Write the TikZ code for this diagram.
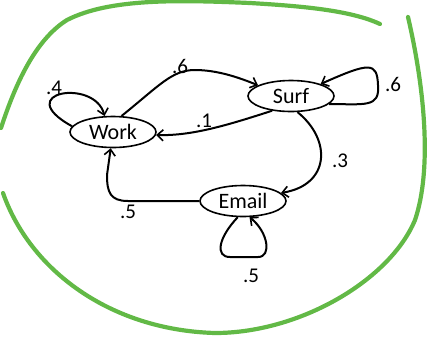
\documentclass[tikz,border=0pt]{standalone}
\usepackage{fontspec}
\setmainfont{Carlito}
\usetikzlibrary{arrows.meta,shapes.geometric}
\definecolor{grn}{RGB}{98,185,70}
\begin{document}
\begin{tikzpicture}[x=1pt,y=-1pt,
  state/.style={draw,ellipse,line width=1.6pt,inner sep=0pt,minimum width=86pt,minimum height=31pt,font=\fontsize{22}{26}\selectfont},
  lbl/.style={font=\fontsize{21}{25}\selectfont,inner sep=0pt},
  arr/.style={line width=2pt,-{Straight Barb[length=6pt,width=11pt,line width=1.6pt]}},
  greenline/.style={draw=grn,line width=4.2pt,line cap=round}]
\useasboundingbox (0,0) rectangle (433,341);
% green hand-drawn outline
\draw[greenline] (380,24) .. controls (350,10) and (300,6) .. (250,3)
  .. controls (180,0) and (110,-2) .. (67,20)
  .. controls (35,40) and (15,85) .. (1,128);
\draw[greenline] (3,193) .. controls (30,270) and (110,330) .. (215,333)
  .. controls (300,333) and (390,280) .. (415,220)
  .. controls (432,170) and (425,90) .. (408,17);
% states
\node[state] (work) at (113,132) {Work};
\node[state] (surf) at (291,96) {Surf};
\node[state] (email) at (243,201) {Email};
% edges
\draw[arr] (work.172) .. controls (10,92) and (95,78) .. (work.118);
\draw[arr] (work.62) .. controls (160,85) and (172,70) .. (195,70)
  .. controls (218,70) and (240,78) .. (surf.162);
\draw[arr] (surf.218) .. controls (228,125) and (192,136) .. (work.356);
\draw[arr] (surf.348) .. controls (365,104) and (380,108) .. (378,85)
  .. controls (377,62) and (370,62) .. (surf.22);
\draw[arr] (surf.292) .. controls (332,140) and (330,185) .. (email.12);
\draw[arr] (email.west) -- (128,201) .. controls (110,201) and (107,192) .. (107,175) -- (work.262);
\draw[arr] (email.252) .. controls (218,238) and (215,257) .. (230,257)
  -- (258,257) .. controls (272,257) and (268,232) .. (email.292);
% labels
\node[lbl] (l1) at (54,88) {.4};
\node[lbl] (l2) at (180,66) {.6};
\node[lbl] (l3) at (204,121) {.1};
\node[lbl] (l4) at (393,84) {.6};
\node[lbl] (l5) at (340,161) {.3};
\node[lbl] (l6) at (128,212) {.5};
\node[lbl] (l7) at (251,276) {.5};
\end{tikzpicture}
\end{document}
